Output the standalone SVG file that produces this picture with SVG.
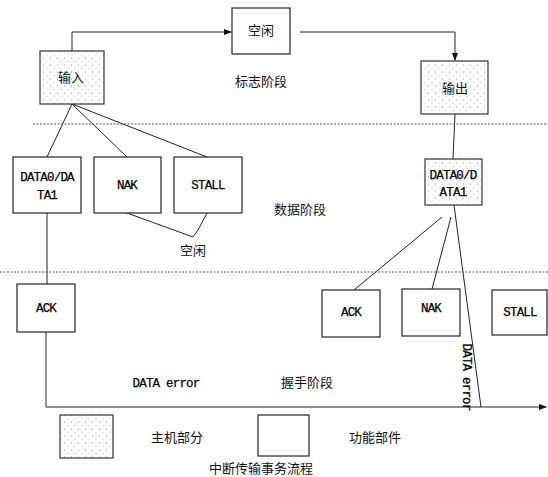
<svg xmlns="http://www.w3.org/2000/svg" width="548" height="477" viewBox="0 0 548 477">
<style>
.box{fill:#fff;stroke:#222;stroke-width:1.2}
.host{fill:url(#dots);stroke:#333;stroke-width:1.2}
.ln{fill:none;stroke:#222;stroke-width:1}
.dash{fill:none;stroke:#555;stroke-width:1;stroke-dasharray:2 1.5}
.cn{font-family:"Noto Sans CJK SC","Noto Sans",sans-serif;font-size:13px;fill:#111;text-anchor:middle}
.mono{font-family:"Liberation Mono",monospace;font-size:12.5px;letter-spacing:-0.8px;fill:#000;stroke:#000;stroke-width:0.25;text-anchor:middle}
</style>
<defs>
<pattern id="dots" width="7" height="7" patternUnits="userSpaceOnUse">
<rect width="7" height="7" fill="#fff"/>
<circle cx="1.5" cy="2" r="0.6" fill="#888"/>
<circle cx="5" cy="5.5" r="0.5" fill="#aaa"/>
</pattern>
<marker id="arr" markerWidth="8" markerHeight="8" refX="7" refY="4" orient="auto" markerUnits="userSpaceOnUse">
<path d="M0,1 L8,4 L0,7 Z" fill="#111"/>
</marker>
</defs>
<g id="connectors">
<polyline class="ln" points="72,51 72,32 231,32" marker-end="url(#arr)"/>
<polyline class="ln" points="300,32 455,32 455,60" marker-end="url(#arr)"/>
<line class="ln" x1="72" y1="104" x2="47" y2="157"/>
<line class="ln" x1="72" y1="104" x2="127" y2="157"/>
<line class="ln" x1="72" y1="104" x2="207" y2="157"/>
<polyline class="ln" points="127,213 193,237 198,230 207,213"/>
<line class="ln" x1="47" y1="213" x2="47" y2="284"/>
<polyline class="ln" points="46,332 46,407 546,407" marker-end="url(#arr)"/>
<line class="ln" x1="455" y1="114" x2="453" y2="159"/>
<line class="ln" x1="442" y1="217" x2="354" y2="290"/>
<line class="ln" x1="451" y1="217" x2="432" y2="289"/>
<line class="ln" x1="454" y1="205" x2="481" y2="407"/>
<line class="dash" x1="33" y1="124" x2="548" y2="124"/>
<line class="dash" x1="0" y1="272" x2="548" y2="272"/>
</g>
<g id="idle"><rect class="box" x="232" y="8" width="58" height="46"/><text class="cn" x="261" y="35">空闲</text></g>
<g id="input"><rect class="host" x="40" y="51" width="64" height="53"/><text class="cn" x="71" y="82">输入</text></g>
<g id="output"><rect class="host" x="421" y="61" width="67" height="53"/><text class="cn" x="455" y="93">输出</text></g>
<g id="data-left"><rect class="box" x="13" y="157" width="68" height="56"/><text class="mono" x="47" y="181">DATA0/DA</text><text class="mono" x="47" y="199">TA1</text></g>
<g id="nak-left"><rect class="box" x="94" y="157" width="67" height="56"/><text class="mono" x="127" y="189">NAK</text></g>
<g id="stall-left"><rect class="box" x="174" y="157" width="68" height="56"/><text class="mono" x="208" y="189">STALL</text></g>
<g id="data-right"><rect class="host" x="425" y="159" width="57" height="46"/><text class="mono" x="453" y="179">DATA0/D</text><text class="mono" x="453" y="196">ATA1</text></g>
<g id="ack-left"><rect class="box" x="17" y="284" width="58" height="48"/><text class="mono" x="46" y="312">ACK</text></g>
<g id="ack-right"><rect class="box" x="322" y="290" width="58" height="47"/><text class="mono" x="351" y="316">ACK</text></g>
<g id="nak-right"><rect class="box" x="402" y="289" width="58" height="47"/><text class="mono" x="431" y="312">NAK</text></g>
<g id="stall-right"><rect class="box" x="492" y="290" width="55" height="45"/><text class="mono" x="520" y="316">STALL</text></g>
<g id="labels">
<text class="cn" x="261" y="86">标志阶段</text>
<text class="cn" x="300" y="214">数据阶段</text>
<text class="cn" x="193" y="255">空闲</text>
<text class="mono" x="166" y="387">DATA error</text>
<text class="cn" x="307" y="387">握手阶段</text>
<text class="mono" transform="translate(463,377) rotate(90)" x="0" y="0">DATA error</text>
</g>
<g id="legend">
<rect class="host" x="60" y="415" width="53" height="43"/>
<text class="cn" x="177" y="442">主机部分</text>
<rect class="box" x="258" y="415" width="51" height="41"/>
<text class="cn" x="375" y="442">功能部件</text>
<text class="cn" x="261" y="473">中断传输事务流程</text>
</g>
</svg>
